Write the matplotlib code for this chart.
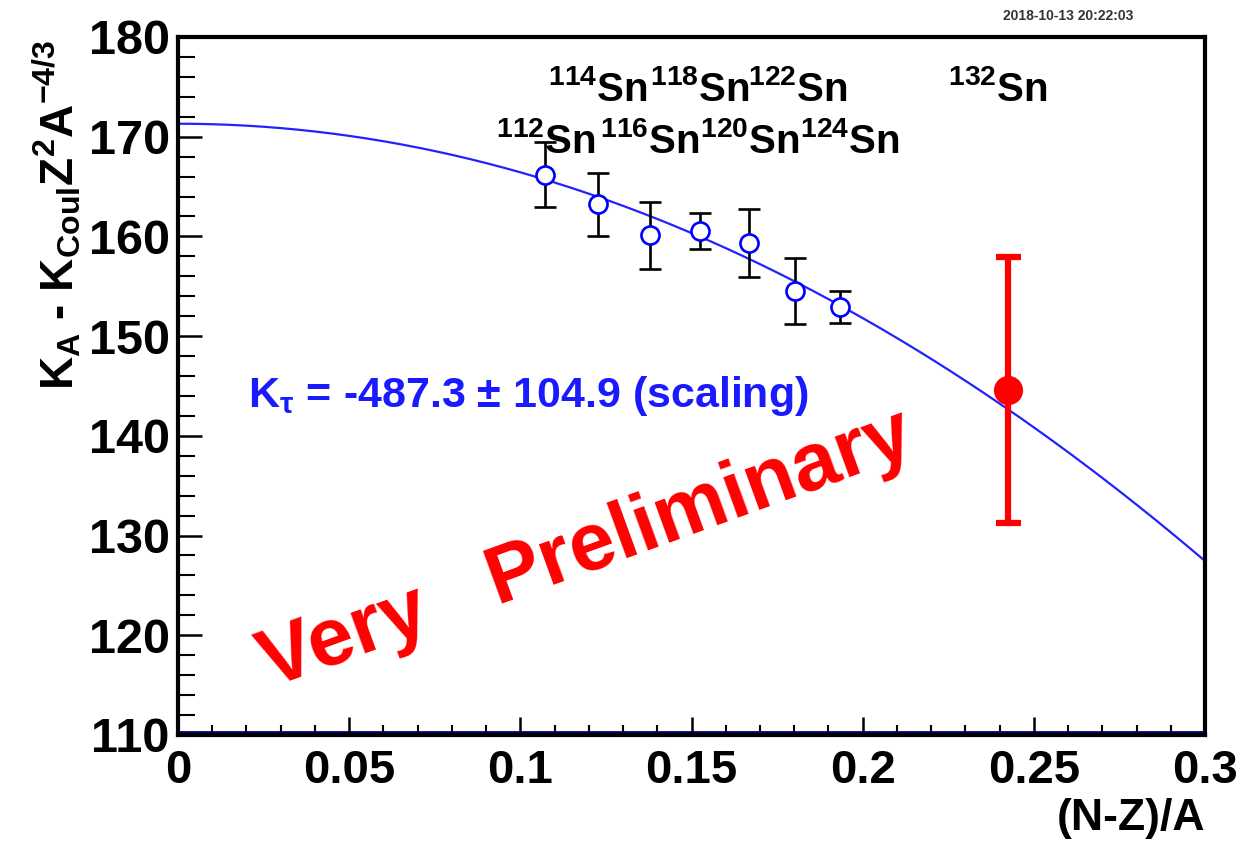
import matplotlib.pyplot as plt
import numpy as np
from matplotlib.ticker import MultipleLocator

plt.rcParams["font.family"] = ["Liberation Sans", "DejaVu Sans"]
plt.rcParams["font.weight"] = "bold"
plt.rcParams["mathtext.fontset"] = "custom"
plt.rcParams["mathtext.rm"] = "Liberation Sans:bold"
plt.rcParams["mathtext.it"] = "Liberation Sans:bold"
plt.rcParams["mathtext.bf"] = "Liberation Sans:bold"
plt.rcParams["mathtext.sf"] = "Liberation Sans:bold"

# Sn isotopes, scaling analysis
isotopes = ["112", "114", "116", "118", "120", "122", "124"]
asym = [0.1071, 0.1228, 0.1379, 0.1525, 0.1667, 0.1803, 0.1935]
k_val = [166.2, 163.2, 160.1, 160.5, 159.3, 154.5, 152.9]
k_err = [3.3, 3.2, 3.35, 1.8, 3.4, 3.3, 1.6]

sn132_x = [0.2424]
sn132_y = [144.6]
sn132_err = [13.3]

# fit parameters: K0 + K_tau * delta^2
fit_k0 = 171.3
fit_ktau = -487.3

fig = plt.figure(figsize=(12.55, 8.48), dpi=100)
ax = fig.add_axes([0.1418, 0.1333, 0.8184, 0.8231])

xf = np.linspace(0, 0.3, 300)
ax.plot(xf, fit_k0 + fit_ktau * xf**2, color="#2222ff", lw=1.6, zorder=2)

ax.errorbar(asym, k_val, yerr=k_err, fmt="o", ms=13, mfc="white", mec="blue",
            mew=1.9, ecolor="black", elinewidth=1.9, capsize=8, capthick=1.9,
            zorder=3)
ax.errorbar(sn132_x, sn132_y, yerr=sn132_err, fmt="o", ms=20, color="red",
            ecolor="red", elinewidth=4.5, capsize=9, capthick=4.5, zorder=4)

ax.axhline(110.25, color="navy", lw=2, zorder=1)

ax.set_xlim(0, 0.3)
ax.set_ylim(110, 180)
ax.xaxis.set_major_locator(MultipleLocator(0.05))
ax.xaxis.set_minor_locator(MultipleLocator(0.01))
ax.yaxis.set_major_locator(MultipleLocator(10))
ax.yaxis.set_minor_locator(MultipleLocator(2))
ax.set_xticks(np.arange(0, 0.301, 0.05))
ax.set_xticklabels(["0", "0.05", "0.1", "0.15", "0.2", "0.25", "0.3"])

ax.tick_params(axis="x", which="major", direction="in", length=13, width=1.8,
               labelsize=34, pad=10)
ax.tick_params(axis="x", which="minor", direction="in", length=7, width=1.5)
ax.tick_params(axis="y", which="major", direction="in", length=17, width=1.8,
               labelsize=35, pad=6)
ax.tick_params(axis="y", which="minor", direction="in", length=12, width=1.5)
for lab in ax.get_xticklabels() + ax.get_yticklabels():
    lab.set_fontweight("bold")
for s in ax.spines.values():
    s.set_linewidth(3)

ax.set_xlabel("(N-Z)/A", fontsize=32, fontweight="bold")
ax.xaxis.set_label_coords(1.0, -0.09)
ax.xaxis.label.set_horizontalalignment("right")
ax.set_ylabel(r"K$_{A}$ - K$_{Coul}$Z$^{2}$A$^{-4/3}$", fontsize=33,
              fontweight="bold")
ax.yaxis.set_label_coords(-0.092, 0.745)

# isotope labels
lab_upper = ["114", "118", "122", "132"]
lab_upper_x = [0.1081, 0.1379, 0.1665, 0.2250]
lab_lower = ["112", "116", "120", "124"]
lab_lower_x = [0.0929, 0.1233, 0.1525, 0.1817]
for t, x in zip(lab_upper, lab_upper_x):
    ax.text(x, 173.6, r"$^{%s}$Sn" % t, fontsize=29, fontweight="bold",
            ha="left", va="baseline")
for t, x in zip(lab_lower, lab_lower_x):
    ax.text(x, 168.4, r"$^{%s}$Sn" % t, fontsize=29, fontweight="bold",
            ha="left", va="baseline")

ax.text(0.0205, 142.9, r"K$_{\tau}$ = -487.3 $\pm$ 104.9 (scaling)",
        fontsize=31, fontweight="bold", color="#1a1aff", ha="left",
        va="baseline")

ax.text(0.1195, 128.5, "Very   Preliminary", fontsize=59, fontweight="bold",
        color="#ff0000", rotation=20, ha="center", va="center",
        rotation_mode="anchor")

fig.text(0.851, 0.981, "2018-10-13 20:22:03", fontsize=10, fontweight="bold",
         color="#333333", ha="center", va="center")

fig.savefig("out.png", dpi=100)
